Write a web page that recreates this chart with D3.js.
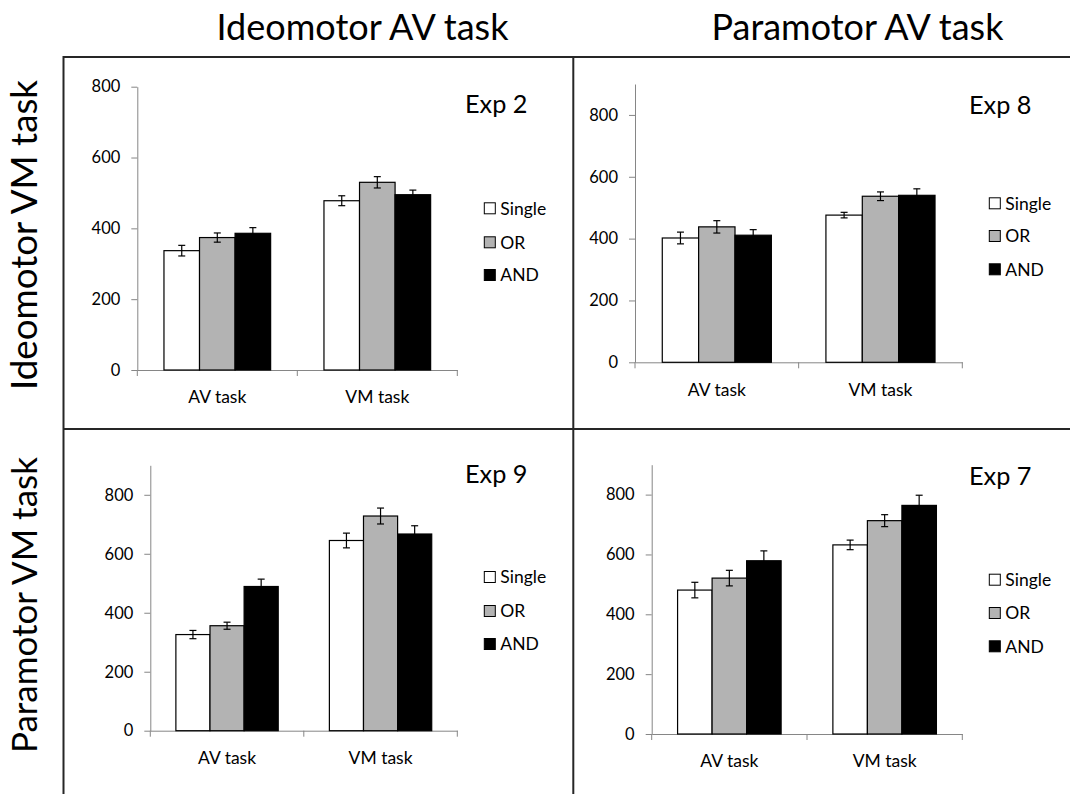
<!DOCTYPE html>
<html>
<head>
<meta charset="utf-8">
<script src="https://cdn.jsdelivr.net/npm/d3@7"></script>
<style>
  html, body { margin: 0; padding: 0; background: #fff; }
  svg { display: block; }
  text { font-family: Lato, "Open Sans", "Noto Sans", sans-serif; fill: #000; }
</style>
</head>
<body>
<svg id="chart" width="1070" height="794"></svg>
<script>
// ---------------- DATA ----------------
const categories = ["AV task", "VM task"];
const seriesNames = ["Single", "OR", "AND"];
const yTicks = [0, 200, 400, 600, 800];
const columnTitles = ["Ideomotor AV task", "Paramotor AV task"];
const rowTitles = ["Ideomotor VM task", "Paramotor VM task"];
const expLabels = ["Exp 2", "Exp 8", "Exp 9", "Exp 7"];
const yMaxes = [800, 900, 900, 900];

// means per category, order Single, OR, AND
const exp2AV = [337, 374, 386];
const exp2VM = [478, 530, 495];
const exp2AVErr = [15, 13, 16];
const exp2VMErr = [14, 16, 13];

const exp8AV = [402, 438, 411];
const exp8VM = [476, 537, 540];
const exp8AVErr = [19, 20, 18];
const exp8VMErr = [9, 14, 21];

const exp9AV = [326, 356, 489];
const exp9VM = [645, 728, 667];
const exp9AVErr = [14, 12, 25];
const exp9VMErr = [25, 27, 28];

const exp7AV = [481, 521, 579];
const exp7VM = [632, 713, 764];
const exp7AVErr = [26, 26, 33];
const exp7VMErr = [16, 20, 34];

// ---------------- LAYOUT / STYLE ----------------
const panelData = [
  { means: [exp2AV, exp2VM], errs: [exp2AVErr, exp2VMErr] },
  { means: [exp8AV, exp8VM], errs: [exp8AVErr, exp8VMErr] },
  { means: [exp9AV, exp9VM], errs: [exp9AVErr, exp9VMErr] },
  { means: [exp7AV, exp7VM], errs: [exp7AVErr, exp7VMErr] }
];
const panelGeom = [
  { x0: 137.3, x1: 457.3, yZero: 370,   yTop: 86.7,  legX: 484.3, legY: [208.3, 242.3, 275],   expX: 465, expY: 113.3 },
  { x0: 635,   x1: 962.3, yZero: 362.3, yTop: 84,    legX: 989.3, legY: [203.3, 236, 269.3],   expX: 969, expY: 114 },
  { x0: 150.3, x1: 457.3, yZero: 730.7, yTop: 465.3, legX: 484.3, legY: [577, 611, 644],       expX: 465, expY: 483 },
  { x0: 651.7, x1: 962.3, yZero: 734,   yTop: 464.7, legX: 989.3, legY: [579.7, 613, 646.3],   expX: 969, expY: 484.7 }
];
const fills = { Single: "#ffffff", OR: "#b3b3b3", AND: "#000000" };
const axisColor = "#868686";
const frameColor = "#262626";

const svg = d3.select("#chart");

function fitText(sel, target, startSize) {
  sel.attr("font-size", startSize);
  const w = sel.node().getComputedTextLength();
  sel.attr("font-size", startSize * target / w);
}

// ---------------- FRAME ----------------
const frame = svg.append("g").attr("stroke", frameColor).attr("stroke-width", 2);
frame.append("line").attr("x1", 63.5).attr("x2", 1070).attr("y1", 57).attr("y2", 57);
frame.append("line").attr("x1", 63.5).attr("x2", 1070).attr("y1", 429).attr("y2", 429);
frame.append("line").attr("x1", 63.5).attr("x2", 63.5).attr("y1", 56).attr("y2", 794);
frame.append("line").attr("x1", 573.3).attr("x2", 573.3).attr("y1", 57).attr("y2", 794);

// ---------------- TITLES ----------------
const colCenters = [362.5, 857.5];
columnTitles.forEach((t, i) => {
  const tx = svg.append("text").attr("x", colCenters[i]).attr("y", 40)
    .attr("text-anchor", "middle").text(t);
  fitText(tx, 292, 34);
});
const rowCenters = [235, 605];
const rowLens = [310, 296];
rowTitles.forEach((t, i) => {
  const tx = svg.append("text")
    .attr("transform", `translate(37,${rowCenters[i]}) rotate(-90)`)
    .attr("text-anchor", "middle").text(t);
  fitText(tx, rowLens[i], 34);
});

// ---------------- PANELS ----------------
panelData.forEach((pd, pi) => {
  const g = panelGeom[pi];
  const gp = svg.append("g");

  const x = d3.scaleBand().domain(categories).range([g.x0, g.x1])
    .paddingInner(1 / 3).paddingOuter(1 / 6);
  const xs = d3.scaleBand().domain(seriesNames).range([0, x.bandwidth()]);
  const y = d3.scaleLinear().domain([0, yMaxes[pi]]).range([g.yZero, g.yTop]);

  // y axis
  const yAx = gp.append("g").attr("transform", `translate(${g.x0},0)`)
    .call(d3.axisLeft(y).tickValues(yTicks).tickSize(6).tickPadding(11).tickSizeOuter(0));
  yAx.select(".domain").attr("stroke", axisColor);
  yAx.selectAll(".tick line").attr("stroke", axisColor);
  yAx.selectAll(".tick text").attr("font-size", 16.5).attr("fill", "#000")
    .style("font-family", "Lato, 'Open Sans', sans-serif");

  // x axis: line + boundary ticks
  const xAx = gp.append("g").attr("transform", `translate(0,${g.yZero})`)
    .call(d3.axisBottom(x).tickSize(0).tickPadding(21).tickSizeOuter(0));
  xAx.select(".domain").attr("stroke", axisColor);
  xAx.selectAll(".tick text").attr("font-size", 17.5).attr("fill", "#000")
    .style("font-family", "Lato, 'Open Sans', sans-serif");
  const bounds = [g.x0, (x(categories[0]) + x.bandwidth() + x(categories[1])) / 2, g.x1];
  xAx.selectAll(".bt").data(bounds).join("line").attr("class", "bt")
    .attr("x1", d => d).attr("x2", d => d).attr("y1", 0).attr("y2", 6)
    .attr("stroke", axisColor);

  // bars
  categories.forEach((c, ci) => {
    seriesNames.forEach((s, si) => {
      const v = pd.means[ci][si];
      const e = pd.errs[ci][si];
      const bx = x(c) + xs(s);
      gp.append("rect")
        .attr("x", bx).attr("y", y(v))
        .attr("width", xs.bandwidth()).attr("height", y(0) - y(v))
        .attr("fill", fills[s]).attr("stroke", "#000").attr("stroke-width", 1.2);
      const cx = bx + xs.bandwidth() / 2;
      const eb = gp.append("g").attr("stroke", "#000").attr("stroke-width", 1.2);
      eb.append("line").attr("x1", cx).attr("x2", cx).attr("y1", y(v + e)).attr("y2", y(v - e));
      eb.append("line").attr("x1", cx - 3.5).attr("x2", cx + 3.5).attr("y1", y(v + e)).attr("y2", y(v + e));
      eb.append("line").attr("x1", cx - 3.5).attr("x2", cx + 3.5).attr("y1", y(v - e)).attr("y2", y(v - e));
    });
  });

  // legend
  seriesNames.forEach((s, si) => {
    gp.append("rect").attr("x", g.legX).attr("y", g.legY[si] - 5.5)
      .attr("width", 11).attr("height", 11)
      .attr("fill", fills[s]).attr("stroke", "#000").attr("stroke-width", 1);
    gp.append("text").attr("x", g.legX + 16).attr("y", g.legY[si])
      .attr("dy", "0.36em").attr("font-size", 17.5).text(s);
  });

  // exp label
  const ex = gp.append("text").attr("x", g.expX).attr("y", g.expY).text(expLabels[pi]);
  fitText(ex, 62.5, 25);
});
</script>
</body>
</html>
